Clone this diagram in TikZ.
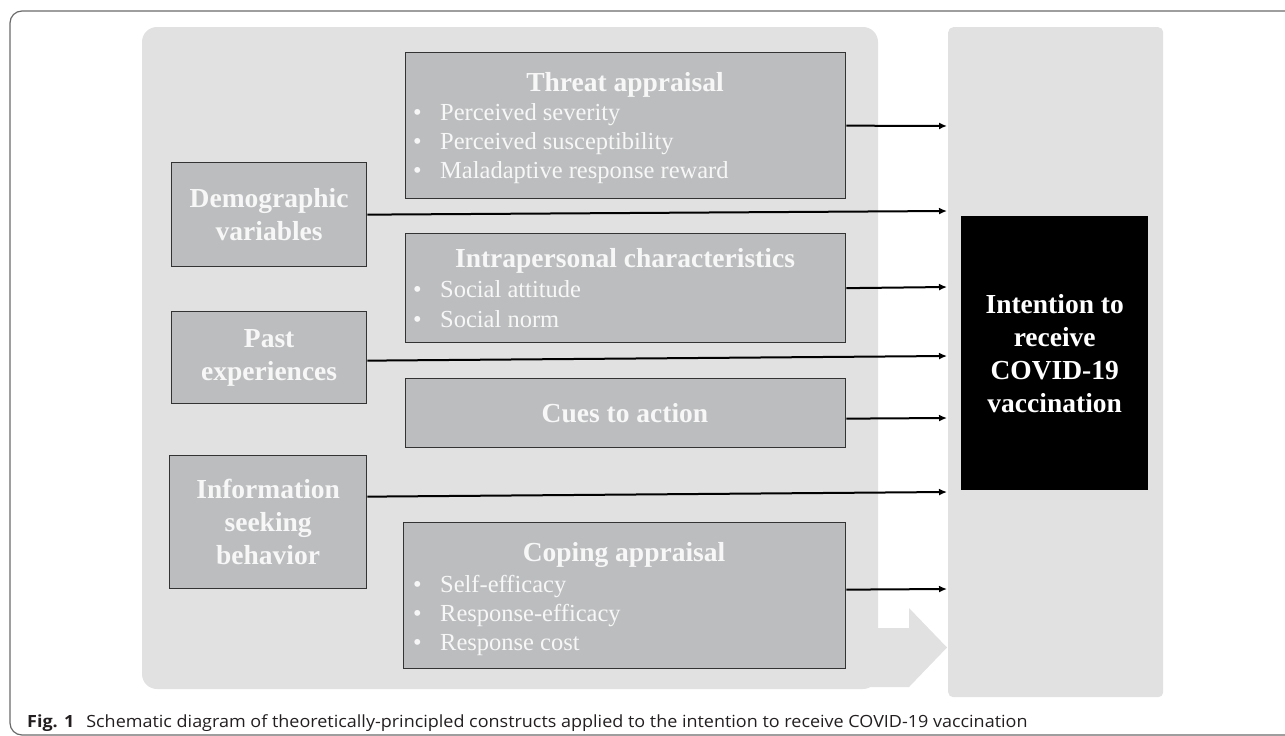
\documentclass[tikz,border=0pt]{standalone}
\usepackage{fontspec}
\setmainfont{Liberation Serif}
\newfontfamily\capfont[FakeStretch=1.07]{Open Sans}
\usetikzlibrary{arrows.meta}
\definecolor{panelc}{HTML}{E1E1E1}
\definecolor{boxc}{HTML}{BCBDBF}
\definecolor{edgec}{HTML}{333333}
\definecolor{framec}{HTML}{6A6A6A}
\definecolor{txtc}{HTML}{F7F7F7}
\definecolor{capc}{HTML}{231F20}
\tikzset{
  cbox/.style={draw=edgec, line width=1.3pt, fill=boxc, inner sep=0pt, anchor=north west},
  lbox/.style={cbox, text=txtc, align=center, font=\bfseries\fontsize{27.5}{33}\selectfont},
  ttl/.style={text=txtc, inner sep=0pt, anchor=base, font=\bfseries\fontsize{27.5}{33}\selectfont},
  itm/.style={text=txtc, inner sep=0pt, anchor=base west, font=\fontsize{24.5}{29}\selectfont},
  arr/.style={line width=2pt, -{Latex[length=8pt,width=7pt]}},
  panel/.style={fill=panelc, draw=none}
}
\newcommand{\bul}[1]{\makebox[27pt][l]{\textbullet}#1}
\begin{document}
\begin{tikzpicture}[x=1pt,y=-1pt]
\useasboundingbox (0,0) rectangle (1285,736);
\clip (0,0) rectangle (1285,736);
% outer frame
\draw[framec, line width=1.2pt, rounded corners=12pt] (10,11) rectangle (1320,735);
% panels
\fill[panel, rounded corners=15pt] (142,27) rectangle (878,689);
\fill[panel] (870,628) -- (909,628) -- (909,608) -- (947,647.5) -- (909,687) -- (870,687) -- cycle;
\node[panel, rounded corners=5pt, minimum width=215pt, minimum height=670pt, inner sep=0pt, anchor=north west] (rp) at (948,27) {};
% goal box
\node[fill=black, inner sep=0pt, minimum width=187pt, minimum height=274pt, anchor=north west,
      text=white, align=center, font=\bfseries\fontsize{27.5}{33}\selectfont] (goal) at (961,216)
  {Intention to\\receive\\COVID-19\\vaccination};
% left boxes
\node[lbox, minimum width=195pt, minimum height=104pt] (demo) at (171,162) {Demographic\\variables};
\node[lbox, minimum width=195pt, minimum height=92pt] (past) at (171,311) {Past\\experiences};
\node[lbox, minimum width=197pt, minimum height=133pt] (info) at (169,455) {Information\\seeking\\behavior};
% middle boxes
\node[cbox, minimum width=440pt, minimum height=146pt] (threat) at (405,52) {};
\node[ttl] (threatT) at (625,91) {Threat appraisal};
\node[itm] (threat1) at (413,120) {\bul{Perceived severity}};
\node[itm] (threat2) at (413,149) {\bul{Perceived susceptibility}};
\node[itm] (threat3) at (413,178) {\bul{Maladaptive response reward}};

\node[cbox, minimum width=440pt, minimum height=109pt] (intra) at (405,233) {};
\node[ttl] (intraT) at (625,267) {Intrapersonal characteristics};
\node[itm] (intra1) at (413,297) {\bul{Social attitude}};
\node[itm] (intra2) at (413,327) {\bul{Social norm}};

\node[cbox, minimum width=440pt, minimum height=69pt] (cues) at (405,378) {};
\node[ttl] (cuesT) at (625,422) {Cues to action};

\node[cbox, minimum width=442pt, minimum height=146pt] (coping) at (403,522) {};
\node[ttl] (copingT) at (624,561) {Coping appraisal};
\node[itm] (coping1) at (413,592) {\bul{Self-efficacy}};
\node[itm] (coping2) at (413,621) {\bul{Response-efficacy}};
\node[itm] (coping3) at (413,650) {\bul{Response cost}};
% arrow ends
\coordinate (e1) at (947,126);
\coordinate (e2) at (947,211);
\coordinate (e3) at (947,287);
\coordinate (e4) at (947,356);
\coordinate (e5) at (947,418);
\coordinate (e6) at (947,492);
\coordinate (e7) at (947,589);
\draw[arr] (threat.east) -- (e1);
\draw[arr] (demo.east) -- (e2);
\draw[arr] (intra.east) -- (e3);
\draw[arr] ([yshift=-3pt]past.east) -- (e4);
\draw[arr] ([yshift=-5.5pt]cues.east) -- (e5);
\draw[arr] ([yshift=25.5pt]info.east) -- (e6);
\draw[arr] ([yshift=6pt]coping.east) -- (e7);
% caption
\node[anchor=base west, inner sep=0pt, text=capc, font=\capfont\fontsize{16.8}{19}\selectfont] (cap) at (27,727)
  {\textbf{Fig. 1}\hspace{12pt}Schematic diagram of theoretically-principled constructs applied to the intention to receive COVID-19 vaccination};
\end{tikzpicture}
\end{document}
